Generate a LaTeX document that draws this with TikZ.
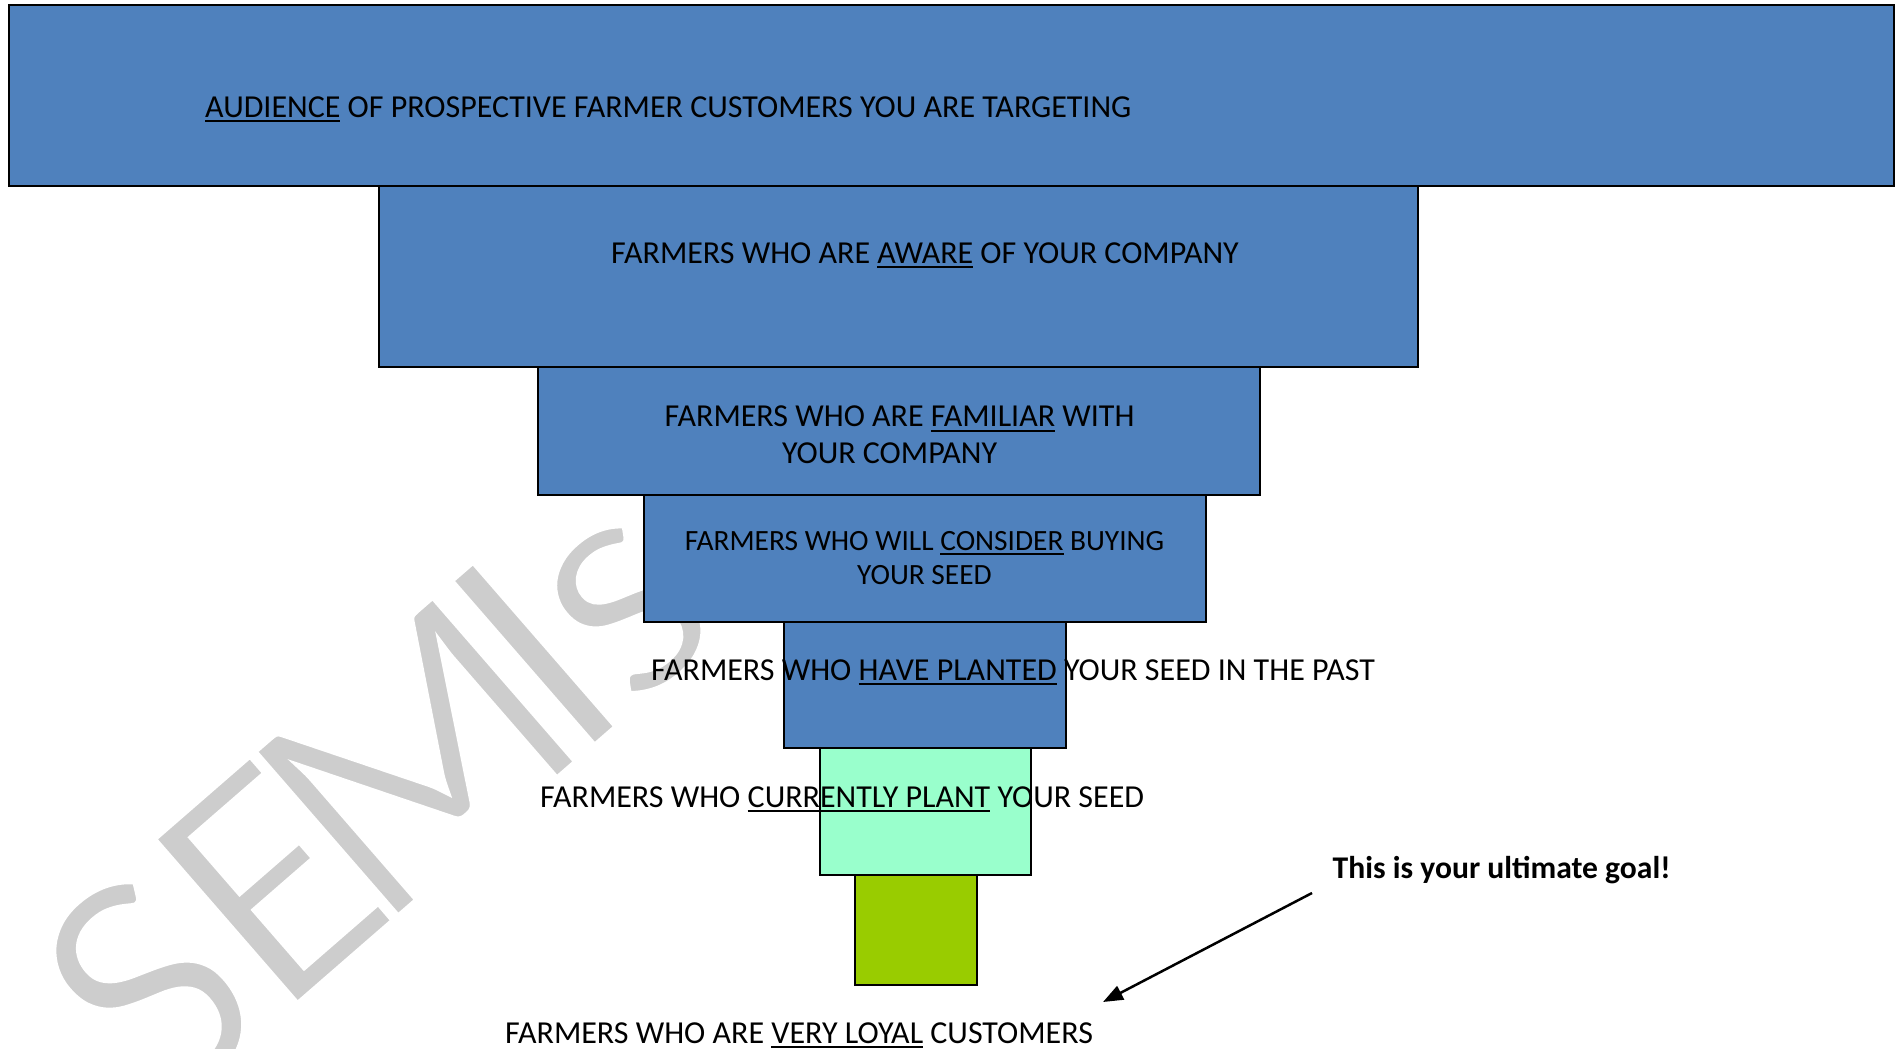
\documentclass[tikz,border=0pt]{standalone}
\usepackage{fontspec}
\setmainfont{Carlito}
\usetikzlibrary{arrows.meta}
\definecolor{stageblue}{RGB}{79,129,189}
\definecolor{mint}{RGB}{153,255,204}
\definecolor{leaf}{RGB}{153,204,0}
\definecolor{wmgray}{RGB}{205,205,205}
\newcommand{\ulx}[1]{\setbox0\hbox{#1}\rlap{\rule[-5pt]{\wd0}{2pt}}\box0\relax}
\newcommand{\thinglyphs}{\special{pdf:literal direct 2 Tr 1 G 7 w}}
\newcommand{\plainglyphs}{\special{pdf:literal direct 0 Tr}}
\begin{document}
\begin{tikzpicture}[x=1pt,y=-1pt,
  stage/.style={draw=black, line width=2pt, inner sep=0pt, rectangle},
  lbl/.style={inner sep=0pt, anchor=base west, font=\fontsize{32}{36.5}\selectfont},
  lbltwo/.style={inner sep=0pt, anchor=base, align=center},
  wmark/.style={inner sep=0pt, anchor=base west, rotate=41, text=wmgray, font=\fontsize{343}{400}\selectfont}]
\clip (0,0) rectangle (1900,1049);
\fill[white] (0,0) rectangle (1900,1049);
% watermark
\node[wmark] (wm) at (160.1,1124.4) {\thinglyphs SE\kern-38pt M\kern-33pt I\kern-10pt s\plainglyphs};
% funnel stages
\node[stage, fill=stageblue, minimum width=1885pt, minimum height=181pt] (s1) at (951.5,95.5) {};
\node[stage, fill=stageblue, minimum width=1039pt, minimum height=181pt] (s2) at (898.5,276.5) {};
\node[stage, fill=stageblue, minimum width=722pt, minimum height=128pt] (s3) at (899,431) {};
\node[stage, fill=stageblue, minimum width=562pt, minimum height=127pt] (s4) at (925,558.5) {};
\node[stage, fill=stageblue, minimum width=282pt, minimum height=126pt] (s5) at (925,685) {};
\node[stage, fill=mint, minimum width=211pt, minimum height=127pt] (s6) at (925.5,811.5) {};
\node[stage, fill=leaf, minimum width=122pt, minimum height=110pt] (s7) at (916,930) {};
% labels
\node[lbl] (t1) at (205,117.3) {\ulx{AUDIENCE} OF PROSPECTIVE FARMER CUSTOMERS YOU ARE TARGETING};
\node[lbl] (t2) at (611,263.3) {FARMERS WHO ARE \ulx{AWARE} OF YOUR COMPANY};
\node[lbltwo, font=\fontsize{32}{36.3}\selectfont] (t3) at (899.6,463) {FARMERS WHO ARE \ulx{FAMILIAR} WITH\\YOUR COMPANY\hspace*{20pt}};
\node[lbltwo, font=\fontsize{29.4}{34}\selectfont] (t4) at (924.5,584) {FARMERS WHO WILL \ulx{CONSIDER} BUYING\\YOUR SEED};
\node[lbl] (t5) at (651,680) {FARMERS WHO \ulx{HAVE PLANTED} YOUR SEED IN THE PAST};
\node[lbl] (t6) at (540,807) {FARMERS WHO \ulx{CURRENTLY PLANT} YOUR SEED};
\node[lbl] (t7) at (505,1043) {FARMERS WHO ARE \ulx{VERY LOYAL} CUSTOMERS};
\node[lbl, font=\fontsize{31.6}{36.5}\selectfont\bfseries] (goal) at (1332.5,878) {This is your ultimate goal!};
% arrow
\coordinate (arrowstart) at (1312,893);
\coordinate (arrowend) at (1103,1002);
\draw[line width=2.5pt, -{Triangle[length=20pt,width=15pt]}] (arrowstart) -- (arrowend);
\end{tikzpicture}
\end{document}
